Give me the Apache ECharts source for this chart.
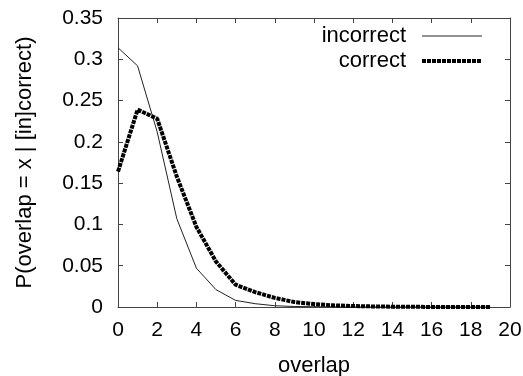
<!DOCTYPE html>
<html>
<head>
<meta charset="utf-8">
<script src="https://cdn.jsdelivr.net/npm/echarts@6/dist/echarts.min.js"></script>
<style>
html,body{margin:0;padding:0;background:#fff;}
#chart{width:523px;height:376px;}
</style>
</head>
<body>
<div id="chart"></div>
<script>
var overlapValues = [0,1,2,3,4,5,6,7,8,9,10,11,12,13,14,15,16,17,18,19];
var incorrectValues = [0.314,0.292,0.212,0.107,0.047,0.021,0.008,0.004,0.0015,0.0006,0.0003,0.0001,0,0,0,0,0,0,0,0];
var correctValues = [0.164,0.239,0.228,0.158,0.097,0.055,0.027,0.018,0.011,0.006,0.0035,0.002,0.0012,0.0007,0.0004,0.0002,0.0001,0.0001,0,0];
var seriesNames = ['incorrect','correct'];
var xTitle = 'overlap';
var yTitle = 'P(overlap = x | [in]correct)';

function pairs(vals){ return overlapValues.map(function(x,i){ return [x, vals[i]]; }); }

var font = 'Liberation Sans, Arial, Helvetica, sans-serif';
var fs = 21, fsT = 22;
var axisColor = '#444';
var thinStyle = {color:'#222', width:1, type:'solid'};
var thickStyle = {color:'#000', width:4, type:[4,1], cap:'butt'};
var chart = echarts.init(document.getElementById('chart'));
var option = {
  animation:false,
  backgroundColor:'#fff',
  textStyle:{fontFamily:font},
  grid:{left:118, top:18, right:13, bottom:69, containLabel:false, outerBoundsMode:'none'},
  legend:{
    orient:'vertical', right:34, top:20, align:'right',
    itemWidth:60, itemHeight:10, itemGap:3,
    itemStyle:{color:'rgba(0,0,0,0)', borderWidth:0, opacity:0},
    textStyle:{fontSize:fsT, color:'#000', fontFamily:font, lineHeight:20, padding:[0,11,0,0]},
    data:[
      {name:seriesNames[0], lineStyle:thinStyle},
      {name:seriesNames[1], lineStyle:thickStyle}
    ]
  },
  xAxis:[{
    type:'value', min:0, max:20, interval:2, position:'bottom',
    name:xTitle, nameLocation:'middle', nameGap:48,
    nameTextStyle:{fontSize:fsT, color:'#000', fontFamily:font},
    axisLine:{show:true, onZero:false, lineStyle:{color:axisColor, width:1}},
    axisTick:{show:true, inside:true, length:5, lineStyle:{color:axisColor}},
    axisLabel:{fontSize:fs, color:'#000', margin:13, fontFamily:font},
    splitLine:{show:false}
  },{
    type:'value', min:0, max:20, interval:2, position:'top',
    axisLine:{show:true, onZero:false, lineStyle:{color:axisColor, width:1}},
    axisTick:{show:true, inside:true, length:5, lineStyle:{color:axisColor}},
    axisLabel:{show:false}, splitLine:{show:false}
  }],
  yAxis:[{
    type:'value', min:0, max:0.35, interval:0.05, position:'left',
    name:yTitle, nameLocation:'middle', nameGap:82, nameRotate:90,
    nameTextStyle:{fontSize:fsT, color:'#000', fontFamily:font},
    axisLine:{show:true, onZero:false, lineStyle:{color:axisColor, width:1}},
    axisTick:{show:true, inside:true, length:5, lineStyle:{color:axisColor}},
    axisLabel:{fontSize:fs, color:'#000', margin:15, fontFamily:font,
      formatter:function(v){ return String(Math.round(v*100)/100); }},
    splitLine:{show:false}
  },{
    type:'value', min:0, max:0.35, interval:0.05, position:'right',
    axisLine:{show:true, onZero:false, lineStyle:{color:axisColor, width:1}},
    axisTick:{show:true, inside:true, length:5, lineStyle:{color:axisColor}},
    axisLabel:{show:false}, splitLine:{show:false}
  }],
  series:[{
    name:seriesNames[0], type:'line', data:pairs(incorrectValues),
    showSymbol:false, symbol:'none',
    lineStyle:thinStyle, itemStyle:{color:'#222'}
  },{
    name:seriesNames[1], type:'line', data:pairs(correctValues),
    showSymbol:false, symbol:'none',
    lineStyle:thickStyle, itemStyle:{color:'#000'}
  }]
};
chart.setOption(option);
</script>
</body>
</html>
